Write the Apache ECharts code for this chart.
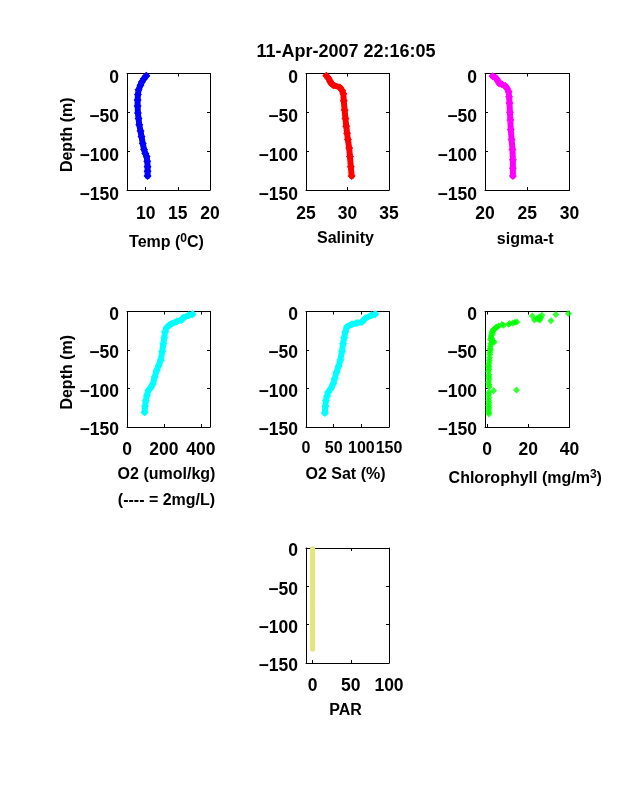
<!DOCTYPE html>
<html>
<head>
<meta charset="utf-8">
<style>html,body{margin:0;padding:0;background:#fff}#c{width:638px;height:788px}</style>
<script src="https://cdn.jsdelivr.net/npm/echarts@6/dist/echarts.min.js"></script>
</head>
<body>
<div id="c"></div>
<script>
var titleText = '11-Apr-2007 22:16:05';
var depthTicks = [-150, -100, -50, 0];

var tempDepth = [-3,-4,-7,-11,-15,-21,-27,-34,-42,-51,-58,-66,-74,-81,-90,-98,-103,-107,-113,-120,-126,-132];
var tempValues = [10.1,10.0,9.7,9.4,9.2,8.9,8.8,8.75,8.75,8.8,8.9,9.0,9.2,9.35,9.55,9.75,9.95,10.15,10.25,10.3,10.3,10.3];

var salDepth = [-3,-6,-10,-13,-15,-18,-22,-26,-35,-47,-58,-68,-77,-85,-96,-107,-120,-132];
var salValues = [27.45,27.7,27.9,28.05,28.3,29.1,29.35,29.5,29.55,29.65,29.75,29.85,29.95,30.05,30.2,30.3,30.4,30.5];

var sigmaDepth = [-3.4,-5,-7,-10,-13,-14,-16,-19,-23.5,-30,-38,-50,-60,-72,-85,-98,-111,-122,-132];
var sigmaValues = [20.9,21.2,21.4,21.55,21.7,22.0,22.4,22.6,22.8,22.85,22.9,22.95,23.0,23.05,23.15,23.25,23.3,23.3,23.3];

var o2Depth = [-3.5,-5,-8,-11,-13,-16,-18,-21,-26.5,-34,-42,-52,-63,-70,-76.5,-85,-94,-99,-102.6,-109,-115.6,-123,-131];
var o2Values = [355,335,305,296,270,242,228,215,206,202,197,191,183,172,161,150,140,128,116,108,102,98,95];

var satDepth = [-3.5,-5,-9,-13.5,-15,-16.5,-20,-26.5,-34,-42,-52,-63,-71,-79,-87,-94,-100,-105,-110,-115.6,-123,-131.7];
var satValues = [125,118,107,101,92,83,74,71,69,67,65,62,59,55,52,49,45,40,38,36,35,34];

var chlDepth = [-2.6,-4,-5,-6,-7,-8,-9,-10,-11,-11,-12,-13.5,-14,-15,-15.5,-16.5,-17,-18,-18.7,-20,-21,-22,-23,-24,-25,-27,-29,-31,-33,-35,-36.5,-38,-39.6,-40,-42,-45,-48,-50,-53,-56,-60,-63.5,-67,-70,-72,-75,-78,-82,-85,-88,-92,-95,-98,-102,-103,-105,-108,-112,-115.6,-119,-122,-125,-128,-131,-133];
var chlValues = [39.5,33.4,26.6,22,25.3,26,24.2,24.8,23,25.5,31,14.5,13.5,12.5,11,10.5,7.2,8,5.6,4.6,4.3,4,3.3,3.2,2.7,2.4,2.7,2.1,1.9,2.3,1.6,2.6,3.5,2.7,1.8,1.6,1.5,1.6,1.4,1.3,1.2,1.1,1,.7,.8,.9,.7,.9,.8,1,.7,.9,1.1,14.3,3.2,.9,.8,.9,.8,.9,.8,.9,.8,.8,.9];

var parDepth = [-1,-10,-20,-30,-40,-50,-60,-70,-80,-90,-100,-110,-120,-132];
var parValues = [0,0,0,0,0,0,0,0,0,0,0,0,0,0];

var font = 'Liberation Sans';
var baseText = {color:'#000', fontFamily:font, fontWeight:'bold', fontSize:16};
var tickText = {color:'#000', fontFamily:font, fontWeight:'bold', fontSize:17.5};
var panels = [
  {l:127,t:73.5,w:83,h:116.5,min:7.1,max:20,ticks:[10,15,20],x:tempValues,d:tempDepth,c:'#0000ff',name:'{b|Temp (}{s|0}{b|C)}',yn:true,lw:6,ss:8,gap:44,m:15,ylh:10},
  {l:306,t:73.5,w:83,h:116.5,min:25,max:35,ticks:[25,30,35],x:salValues,d:salDepth,c:'#ff0000',name:'Salinity',lw:6,ss:8,gap:40,m:15,ylh:10},
  {l:485,t:73.5,w:84.5,h:116.5,min:20,max:30,ticks:[20,25,30],x:sigmaValues,d:sigmaDepth,c:'#ff00ff',name:'sigma-t',lw:6,ss:8,gap:41,m:15,ylh:10},
  {l:127,t:311.5,w:83,h:115.5,min:0,max:450,ticks:[0,200,400],x:o2Values,d:o2Depth,c:'#00ffff',name:'O2 (umol/kg)\n(---- = 2mg/L)',yn:true,lw:6,ss:8,gap:35,lh:26,m:14,ylh:7},
  {l:306,t:311.5,w:83,h:115.5,min:0,max:150,ticks:[0,50,100,150],x:satValues,d:satDepth,c:'#00ffff',name:'O2 Sat (%)',lw:6,ss:8,gap:39,m:14,ylh:7,xfs:16},
  {l:485,t:311.5,w:84.5,h:115.5,min:-1,max:40,ticks:[0,20,40],x:chlValues,d:chlDepth,c:'#00ff00',name:'{b|Chlorophyll (mg/m}{s|3}{b|)}',dots:true,ss:7,gap:43,m:14,ylh:7},
  {l:306,t:548,w:83,h:115,min:-8.7,max:100,ticks:[0,50,100],x:parValues,d:parDepth,c:'#e5e57c',name:'PAR',lw:5,ss:5,gap:39,m:14,ylh:7}
];
var grids=[],xAxes=[],yAxes=[],series=[];
panels.forEach(function(p,i){
  grids.push({left:p.l,top:p.t,width:p.w,height:p.h});
  var tick={show:true,inside:true,length:3,lineStyle:{color:'#000',width:1},customValues:p.ticks};
  var line={show:true,onZero:false,lineStyle:{color:'#000',width:1}};
  xAxes.push({type:'value',gridIndex:i,position:'bottom',min:p.min,max:p.max,splitLine:{show:false},axisLine:line,axisTick:tick,
    axisLabel:Object.assign({},tickText,{fontSize:p.xfs||17.5,margin:p.m,customValues:p.ticks,showMinLabel:true,showMaxLabel:true,hideOverlap:false}),
    name:p.name,nameLocation:'middle',nameGap:p.gap,
    nameTextStyle:Object.assign({},baseText,{padding:[0,4,0,0],lineHeight:p.lh||18,rich:{
      b:Object.assign({},baseText),
      s:Object.assign({},baseText,{fontSize:12,padding:[0,0,9,0]})
    }})});
  xAxes.push({type:'value',gridIndex:i,position:'top',min:p.min,max:p.max,splitLine:{show:false},axisLine:line,axisTick:tick,axisLabel:{show:false}});
  var yo={type:'value',gridIndex:i,position:'left',min:depthTicks[0],max:depthTicks[3],interval:50,splitLine:{show:false},axisLine:line,
    axisTick:{show:true,inside:true,length:3,lineStyle:{color:'#000',width:1}},
    axisLabel:Object.assign({},tickText,{margin:8,verticalAlign:'top',lineHeight:p.ylh,showMinLabel:true,showMaxLabel:true,formatter:function(v){return String(v).replace('-','\u2212');}})};
  if(p.yn){yo.name='Depth (m)';yo.nameLocation='middle';yo.nameGap=50;yo.nameTextStyle=Object.assign({},baseText,{padding:[0,6,0,0]});}
  yAxes.push(yo);
  yAxes.push({type:'value',gridIndex:i,position:'right',min:depthTicks[0],max:depthTicks[3],interval:50,splitLine:{show:false},axisLine:line,
    axisTick:{show:true,inside:true,length:3,lineStyle:{color:'#000',width:1}},axisLabel:{show:false}});
  var pts=p.x.map(function(v,j){return [v,p.d[j]];});
  var s={xAxisIndex:i*2,yAxisIndex:i*2,data:pts,symbol:'diamond',symbolSize:p.ss,itemStyle:{color:p.c},animation:false,silent:true,clip:false};
  if(p.dots){s.type='scatter';}
  else{s.type='line';s.showSymbol=true;s.showAllSymbol=true;s.lineStyle={color:p.c,width:p.lw,cap:'round',join:'round'};}
  series.push(s);
});
var chart=echarts.init(document.getElementById('c'),null,{renderer:'canvas'});
chart.setOption({animation:false,backgroundColor:'#fff',
  title:{text:titleText,left:341,top:38,textAlign:'center',textStyle:Object.assign({},baseText,{fontSize:18})},
  grid:grids,xAxis:xAxes,yAxis:yAxes,series:series});
</script>
</body>
</html>
